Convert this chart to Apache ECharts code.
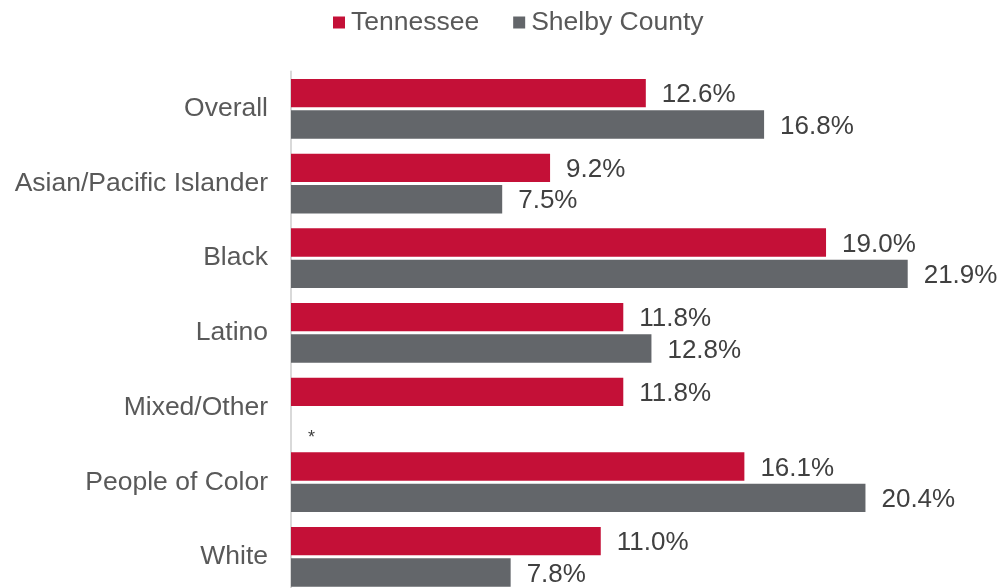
<!DOCTYPE html>
<html>
<head>
<meta charset="utf-8">
<script src="https://cdn.jsdelivr.net/npm/echarts@6/dist/echarts.min.js"></script>
<style>
  html, body { margin: 0; padding: 0; background: #ffffff; overflow: hidden; }
  /* the last row runs slightly past the visible bottom edge */
  #chart { width: 1002px; height: 600px; }
</style>
</head>
<body>
<div id="chart"></div>
<script>
// Share of population by race/ethnicity, Tennessee vs. Shelby County (%)
const categories = ['Overall', 'Asian/Pacific Islander', 'Black', 'Latino', 'Mixed/Other', 'People of Color', 'White'];
const tennessee = [12.6, 9.2, 19.0, 11.8, 11.8, 16.1, 11.0];
const shelby = [16.8, 7.5, 21.9, 12.8, null, 20.4, 7.8]; // null: estimate suppressed, shown as "*"

const RED = '#C41037';
const GRAY = '#63666A';
const TEXT = '#404040';
const FONT = '"Liberation Sans", Arial, sans-serif';

const valueLabel = {
  show: true,
  position: 'right',
  distance: 16,
  offset: [0, 2],
  color: TEXT,
  fontFamily: FONT,
  fontSize: 26,
  formatter: p => p.value.toFixed(1) + '%'
};

const shelbyData = shelby.map(v => v === null
  ? { value: 0, label: { formatter: '*', fontSize: 18, offset: [1, 15] } }
  : v);

const chart = echarts.init(document.getElementById('chart'), null, { renderer: 'canvas' });
chart.setOption({
  animation: false,
  textStyle: { fontFamily: FONT },
  legend: {
    top: 4,
    left: 328,
    itemWidth: 12,
    itemHeight: 12,
    itemGap: 34,
    icon: 'rect',
    textStyle: { fontSize: 26.5, color: '#595959', fontFamily: FONT, padding: [0, 0, 0, 1] },
    data: ['Tennessee', 'Shelby County']
  },
  grid: { left: 291, top: 71.5, width: 704, height: 522.7, containLabel: false },
  xAxis: {
    type: 'value',
    min: 0,
    max: 25,
    show: false
  },
  yAxis: {
    type: 'category',
    inverse: true,
    data: categories,
    axisLine: { show: true, lineStyle: { color: '#D9D9D9', width: 2 } },
    axisTick: { show: false },
    axisLabel: { color: '#595959', fontSize: 26.5, fontFamily: FONT, margin: 23 }
  },
  series: [
    {
      name: 'Tennessee',
      type: 'bar',
      data: tennessee,
      itemStyle: { color: RED },
      barCategoryGap: '20%',
      barGap: '10.5%',
      label: valueLabel
    },
    {
      name: 'Shelby County',
      type: 'bar',
      data: shelbyData,
      itemStyle: { color: GRAY },
      label: valueLabel
    }
  ]
});
</script>
</body>
</html>
